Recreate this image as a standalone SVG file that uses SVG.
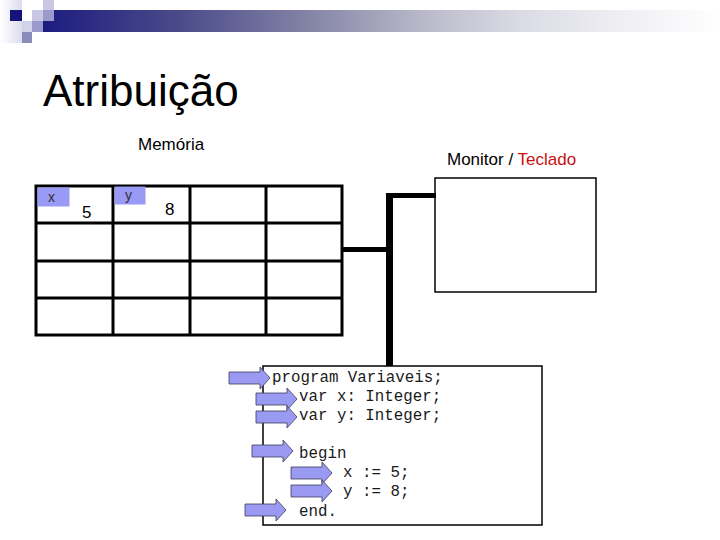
<svg xmlns="http://www.w3.org/2000/svg" width="720" height="540" viewBox="0 0 720 540">
<defs>
<linearGradient id="bar" x1="0" y1="0" x2="1" y2="0">
<stop offset="0" stop-color="#1c1c80"/>
<stop offset="0.2" stop-color="#4a4a8a"/>
<stop offset="0.4" stop-color="#8686a8"/>
<stop offset="0.55" stop-color="#b6b6c8"/>
<stop offset="0.7" stop-color="#dadae4"/>
<stop offset="0.85" stop-color="#eeeef3"/>
<stop offset="1" stop-color="#ffffff"/>
</linearGradient>
<linearGradient id="fade" x1="0" y1="0" x2="1" y2="0">
<stop offset="0" stop-color="#ffffff"/>
<stop offset="1" stop-color="#dcdcee"/>
</linearGradient>
<path id="arr" d="M-41,-6 H-10 V-11 L0,0 L-10,11 V6 H-41 Z"/>
</defs>
<style>
.grid{fill:none;stroke:#000;stroke-width:3}
.lbl{fill:#9999f6}
.sans{font-family:"Liberation Sans",Arial,sans-serif}
.mono{font-family:"Liberation Mono","Courier New",monospace;font-size:15.8px;fill:#1a1a1a}
.box{fill:#fff;stroke:#000;stroke-width:1.5}
.bus{stroke:#000;fill:none}
.arrow{fill:#9a9af2;stroke:#3a3a5a;stroke-width:0.8}
</style>
<rect width="720" height="540" fill="#fff"/>
<g id="header">
<rect x="0" y="0" width="22" height="43" fill="url(#fade)"/>
<rect x="43" y="10" width="677" height="22" fill="url(#bar)"/>
<rect x="10" y="10" width="12" height="11" fill="#14147a"/>
<rect x="43" y="0" width="11" height="10" fill="#c8c8e4"/>
<rect x="32" y="10" width="11" height="11" fill="#c8c8e4"/>
<rect x="43" y="10" width="11" height="11" fill="#9a9acb"/>
<rect x="22" y="21" width="10" height="11" fill="#d2d2ea"/>
<rect x="32" y="21" width="11" height="11" fill="#9a9acb"/>
<rect x="22" y="32" width="10" height="11" fill="#8a8abb"/>
</g>
<g id="title">
<text x="43" y="106" class="sans" font-size="44" fill="#000">Atribuição</text>
</g>
<g id="memory">
<text x="138" y="150" class="sans" font-size="17" fill="#000">Memória</text>
<rect x="36" y="186" width="306" height="149" class="grid"/>
<path class="grid" d="M113,186 V335 M190,186 V335 M266,186 V335 M36,223 H342 M36,261 H342 M36,298 H342"/>
<rect x="37.5" y="187.5" width="32" height="19" class="lbl"/>
<text x="48" y="202" class="sans" font-size="14" fill="#333">x</text>
<rect x="114.5" y="186.5" width="31" height="18" class="lbl"/>
<text x="125" y="200" class="sans" font-size="14" fill="#333">y</text>
<text x="82" y="218" class="sans" font-size="17" fill="#000">5</text>
<text x="165" y="215" class="sans" font-size="17" fill="#000">8</text>
</g>
<g id="monitor">
<text x="447" y="165" class="sans" font-size="17" fill="#000">Monitor / <tspan fill="#c81010">Teclado</tspan></text>
<rect x="435" y="178" width="161" height="114" class="box"/>
</g>
<g id="connectors">
<path class="bus" stroke-width="5" d="M342,249.5 H390"/>
<path class="bus" stroke-width="5" d="M387,195.5 H436"/>
<path class="bus" stroke-width="7" d="M389.5,193 V367"/>
</g>
<g id="code">
<rect x="263" y="366" width="279" height="159" class="box"/>
<text class="mono" x="272" y="382">program Variaveis;</text>
<text class="mono" x="299" y="401">var x: Integer;</text>
<text class="mono" x="299" y="420">var y: Integer;</text>
<text class="mono" x="299" y="458">begin</text>
<text class="mono" x="343" y="477">x := 5;</text>
<text class="mono" x="343" y="496">y := 8;</text>
<text class="mono" x="299" y="516">end.</text>
<use href="#arr" class="arrow" transform="translate(270,378)"/>
<use href="#arr" class="arrow" transform="translate(297,399)"/>
<use href="#arr" class="arrow" transform="translate(297,417)"/>
<use href="#arr" class="arrow" transform="translate(293,451)"/>
<use href="#arr" class="arrow" transform="translate(332,473)"/>
<use href="#arr" class="arrow" transform="translate(332,491)"/>
<use href="#arr" class="arrow" transform="translate(286,510)"/>
</g>
</svg>
